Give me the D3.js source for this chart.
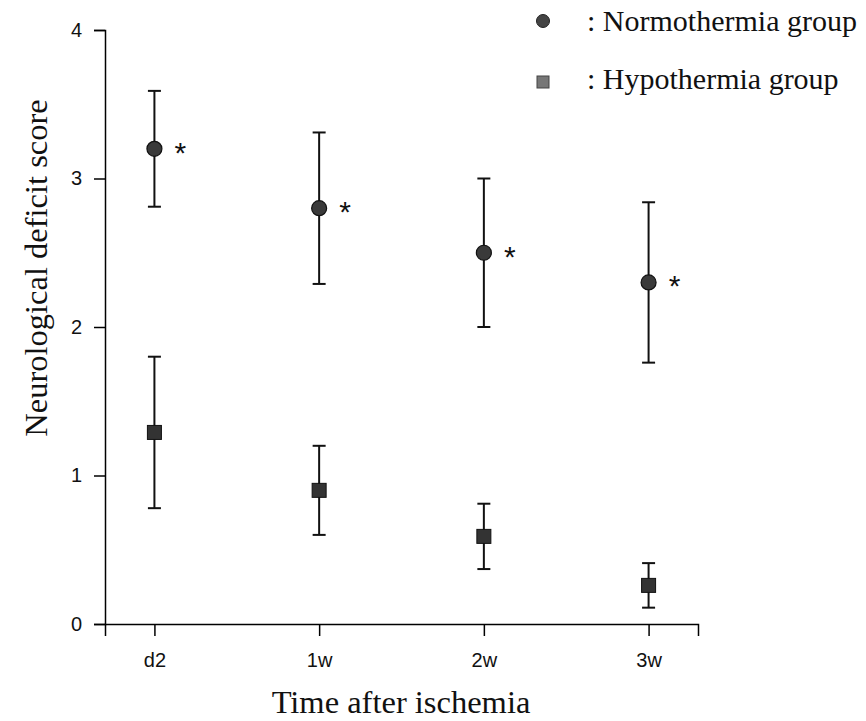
<!DOCTYPE html>
<html>
<head>
<meta charset="utf-8">
<script src="https://cdn.jsdelivr.net/npm/d3@7"></script>
<style>
    body { margin: 0; background: white; }
</style>
</head>
<body>
<script>
"use strict"

/* categories on the x axis */
const tempi = ["d2", "1w", "2w", "3w"];
/* normothermia group: mean and error */
const normoMedia = [3.2, 2.8, 2.5, 2.3];
const normoErrore = [0.39, 0.51, 0.5, 0.54];
/* hypothermia group: mean and error */
const ipoMedia = [1.29, 0.9, 0.59, 0.26];
const ipoErrore = [0.51, 0.30, 0.22, 0.15];
/* y ticks */
const tickY = [0, 1, 2, 3, 4];
/* legend labels */
const etichette = [": Normothermia group", ": Hypothermia group"];

const grafico = { larghezza: 866, altezza: 721 };

const svg = d3.select("body")
    .append("svg")
    .attr("width", grafico.larghezza)
    .attr("height", grafico.altezza);

const x = d3.scalePoint()
    .domain(tempi)
    .range([105, 698])
    .padding(0.3);

const y = d3.scaleLinear()
    .domain([0, 4])
    .range([624, 30]);

/* x axis */
const assex = svg.append("g")
    .attr("transform", "translate(0," + y(0) + ")")
    .call(d3.axisBottom(x).tickSizeOuter(0).tickSize(12).tickPadding(17));
assex.select(".domain").attr("stroke-width", 1.5);
assex.selectAll(".tick line").attr("stroke-width", 1.5);
assex.selectAll("text")
    .attr("font-family", "'Liberation Sans', Arial, sans-serif")
    .attr("font-size", 20)
    .attr("fill", "#111");

/* y axis */
const assey = svg.append("g")
    .attr("transform", "translate(" + x.range()[0] + ",0)")
    .call(d3.axisLeft(y).tickValues(tickY).tickFormat(d3.format("d")).tickSizeOuter(0).tickSize(11).tickPadding(12));
assey.select(".domain").attr("stroke-width", 1.5);
assey.selectAll(".tick line").attr("stroke-width", 1.5);
assey.selectAll("text")
    .attr("font-family", "'Liberation Sans', Arial, sans-serif")
    .attr("font-size", 20)
    .attr("fill", "#111");

/* axis titles */
svg.append("text")
    .attr("x", 401)
    .attr("y", 713)
    .attr("text-anchor", "middle")
    .attr("font-family", "'Liberation Serif', 'Times New Roman', serif")
    .attr("font-size", 32.5)
    .attr("fill", "#111")
    .text("Time after ischemia");

svg.append("text")
    .attr("transform", "translate(47,268) rotate(-90)")
    .attr("text-anchor", "middle")
    .attr("font-family", "'Liberation Serif', 'Times New Roman', serif")
    .attr("font-size", 32.5)
    .attr("fill", "#111")
    .text("Neurological deficit score");

/* builds the series objects from the arrays */
function serie(medie, errori) {
    return tempi.map(function (t, i) {
        return { tempo: t, media: medie[i], errore: errori[i] };
    });
}
const normo = serie(normoMedia, normoErrore);
const ipo = serie(ipoMedia, ipoErrore);

/* draws the error bars of a series */
function barreErrore(dati) {
    const g = svg.append("g")
        .selectAll("g")
        .data(dati)
        .enter()
        .append("g")
        .attr("stroke", "#111")
        .attr("stroke-width", 2);
    g.append("line")
        .attr("x1", function (d) { return x(d.tempo) })
        .attr("x2", function (d) { return x(d.tempo) })
        .attr("y1", function (d) { return y(d.media + d.errore) })
        .attr("y2", function (d) { return y(d.media - d.errore) });
    g.append("line")
        .attr("x1", function (d) { return x(d.tempo) - 6.5 })
        .attr("x2", function (d) { return x(d.tempo) + 6.5 })
        .attr("y1", function (d) { return y(d.media + d.errore) })
        .attr("y2", function (d) { return y(d.media + d.errore) });
    g.append("line")
        .attr("x1", function (d) { return x(d.tempo) - 6.5 })
        .attr("x2", function (d) { return x(d.tempo) + 6.5 })
        .attr("y1", function (d) { return y(d.media - d.errore) })
        .attr("y2", function (d) { return y(d.media - d.errore) });
}
barreErrore(normo);
barreErrore(ipo);

/* normothermia circles */
svg.append("g")
    .selectAll("circle")
    .data(normo)
    .enter()
    .append("circle")
    .attr("cx", function (d) { return x(d.tempo) })
    .attr("cy", function (d) { return y(d.media) })
    .attr("r", 7.5)
    .attr("fill", "#3a3a3a")
    .attr("stroke", "#111")
    .attr("stroke-width", 1.2);

/* asterisks next to the circles */
svg.append("g")
    .selectAll("text")
    .data(normo)
    .enter()
    .append("text")
    .attr("x", function (d) { return x(d.tempo) + 26 })
    .attr("y", function (d) { return y(d.media) + 14 })
    .attr("text-anchor", "middle")
    .attr("font-family", "'Liberation Sans', Arial, sans-serif")
    .attr("font-size", 30)
    .attr("fill", "#111")
    .text("*");

/* hypothermia squares */
svg.append("g")
    .selectAll("rect")
    .data(ipo)
    .enter()
    .append("rect")
    .attr("x", function (d) { return x(d.tempo) - 7 })
    .attr("y", function (d) { return y(d.media) - 7 })
    .attr("width", 14)
    .attr("height", 14)
    .attr("fill", "#333")
    .attr("stroke", "#111")
    .attr("stroke-width", 1);

/* legend */
const legenda = svg.append("g");
legenda.append("circle")
    .attr("cx", 543)
    .attr("cy", 21)
    .attr("r", 6.5)
    .attr("fill", "#444")
    .attr("stroke", "#222")
    .attr("stroke-width", 1);
legenda.append("rect")
    .attr("x", 537)
    .attr("y", 76)
    .attr("width", 12)
    .attr("height", 12)
    .attr("fill", "#777")
    .attr("stroke", "#444")
    .attr("stroke-width", 1);
legenda.selectAll("text")
    .data(etichette)
    .enter()
    .append("text")
    .attr("x", 587)
    .attr("y", function (d, i) { return 31 + i * 58 })
    .attr("font-family", "'Liberation Serif', 'Times New Roman', serif")
    .attr("font-size", 30)
    .attr("fill", "#111")
    .text(function (d) { return d });
</script>
</body>
</html>
